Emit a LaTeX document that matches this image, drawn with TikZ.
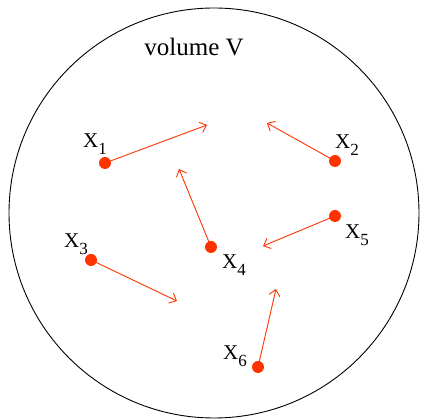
\documentclass[tikz,border=0pt]{standalone}
\usepackage{fontspec}
\setmainfont{Liberation Serif}
\usetikzlibrary{arrows.meta}
\definecolor{pred}{HTML}{FF3300}
\newcommand{\xlab}[1]{X\raisebox{-7pt}{\fontsize{17}{17}\selectfont #1}}
\begin{document}
\begin{tikzpicture}[x=1pt,y=-1pt,
  dot/.style={circle,fill=pred,inner sep=0pt,minimum size=12pt},
  lab/.style={font=\fontsize{21}{24}\selectfont,inner sep=0pt},
  vec/.style={draw=pred,line width=0.9pt,-{Straight Barb[length=6pt,width=11pt,line width=0.9pt]}}]
\useasboundingbox (0,0) rectangle (421,419);
\node[draw=black,line width=0.9pt,circle,minimum size=410pt,inner sep=0pt] (vol) at (214,213) {};
\node[font=\fontsize{25}{28}\selectfont,inner sep=0pt] (title) at (194,47) {volume V};
% points
\node[dot] (p1) at (105,163) {};
\node[dot] (p2) at (335,161) {};
\node[dot] (p3) at (91,260) {};
\node[dot] (p4) at (211,247) {};
\node[dot] (p5) at (335,216) {};
\node[dot] (p6) at (258,367) {};
% arrow tips
\coordinate (t1) at (207,125);
\coordinate (t2) at (267,123);
\coordinate (t3) at (177,301);
\coordinate (t4) at (179,169);
\coordinate (t5) at (263,246);
\coordinate (t6) at (276,289);
\draw[vec] (p1.center) -- (t1);
\draw[vec] (p2.center) -- (t2);
\draw[vec] (p3.center) -- (t3);
\draw[vec] (p4.center) -- (t4);
\draw[vec] (p5.center) -- (t5);
\draw[vec] (p6.center) -- (t6);
% labels
\node[lab] (l1) at (95,144) {\xlab{1}};
\node[lab] (l2) at (347,145) {\xlab{2}};
\node[lab] (l3) at (76,244) {\xlab{3}};
\node[lab] (l4) at (234,265) {\xlab{4}};
\node[lab] (l5) at (357,235) {\xlab{5}};
\node[lab] (l6) at (235,356) {\xlab{6}};
\end{tikzpicture}
\end{document}
